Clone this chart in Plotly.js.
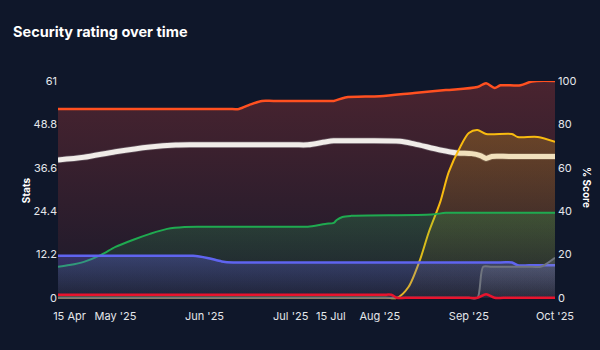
<!DOCTYPE html>
<html>
<head>
<meta charset="utf-8">
<script src="https://cdn.plot.ly/plotly-3.0.1.min.js"></script>
<style>
  html, body { margin: 0; padding: 0; background: #0f172a; }
  #chart { width: 600px; height: 350px; }
</style>
</head>
<body>
<div id="chart"></div>
<script>
// ---- Data (values in % Score) ----
const orangeDates = ['2025-04-11','2025-06-09','2025-06-13','2025-06-17','2025-06-21','2025-06-25','2025-07-13','2025-07-16','2025-07-20','2025-08-01','2025-08-13','2025-08-24','2025-09-04','2025-09-07','2025-09-10','2025-09-12','2025-09-19','2025-09-23','2025-10-01'];
const orangeVals  = [87.1, 87.1, 87.1, 89.2, 90.8, 90.8, 90.8, 90.8, 92.4, 93.0, 94.5, 95.8, 97.2, 99.0, 96.8, 98.0, 98.0, 99.8, 100];

const whiteDates = ['2025-04-11','2025-04-20','2025-05-01','2025-05-13','2025-05-22','2025-05-28','2025-06-03','2025-07-02','2025-07-07','2025-07-13','2025-07-16','2025-07-22','2025-08-08','2025-08-13','2025-08-22','2025-08-28','2025-09-02','2025-09-05','2025-09-07','2025-09-09','2025-09-15','2025-10-01'];
const whiteVals  = [63.6, 64.8, 67.4, 69.6, 70.5, 70.6, 70.6, 70.6, 70.6, 71.9, 72.4, 72.4, 72.2, 71.0, 68.2, 66.8, 66.5, 65.6, 64.3, 65.2, 65.2, 65.2];

const yellowDates = ['2025-04-11','2025-07-01','2025-08-03','2025-08-07','2025-08-11','2025-08-15','2025-08-18','2025-08-22','2025-08-25','2025-08-29','2025-09-01','2025-09-04','2025-09-07','2025-09-16','2025-09-18','2025-09-25','2025-10-01'];
const yellowVals  = [0, 0, 0, 0, 5, 17.5, 30, 44, 58, 69.6, 76, 77.4, 75.6, 75.6, 74.2, 74.2, 71.9];

const greenDates = ['2025-04-11','2025-04-15','2025-04-20','2025-04-26','2025-05-01','2025-05-07','2025-05-13','2025-05-19','2025-05-25','2025-05-31','2025-06-05','2025-07-03','2025-07-07','2025-07-13','2025-07-16','2025-07-17','2025-07-19','2025-07-22','2025-08-19','2025-08-24','2025-09-01','2025-10-01'];
const greenVals  = [14.3, 15.1, 16.6, 19.8, 23.5, 26.7, 29.5, 31.8, 32.7, 32.8, 32.8, 32.8, 32.8, 34.1, 34.6, 35.9, 37.3, 37.8, 38.4, 39.2, 39.2, 39.2];

const blueDates = ['2025-04-11','2025-05-01','2025-05-24','2025-05-28','2025-06-02','2025-06-07','2025-06-11','2025-06-16','2025-09-12','2025-09-16','2025-09-18','2025-09-22','2025-10-01'];
const blueVals  = [19.4, 19.4, 19.4, 19.4, 18.4, 16.8, 16.3, 16.3, 16.3, 16.3, 15.0, 15.0, 15.0];

const grayDates = ['2025-04-11','2025-08-01','2025-09-01','2025-09-04','2025-09-06','2025-09-09','2025-09-23','2025-09-26','2025-10-01'];
const grayVals  = [0, 0, 0, 0, 14.3, 14.3, 14.3, 14.3, 18.5];

const redDates = ['2025-04-11','2025-07-01','2025-08-02','2025-08-05','2025-08-07','2025-08-10','2025-09-01','2025-09-04','2025-09-07','2025-09-10','2025-09-13','2025-10-01'];
const redVals  = [1.4, 1.4, 1.4, 1.4, 0, 0, 0, 0, 1.6, 0, 0, 0];

// ---- Axis ticks ----
const xTickVals  = ['2025-04-15','2025-05-01','2025-06-01','2025-07-01','2025-07-15','2025-08-01','2025-09-01','2025-10-01'];
const xTickText  = ['15 Apr', "May '25", "Jun '25", "Jul '25", '15 Jul', "Aug '25", "Sep '25", "Oct '25"];
const statsTicks = [0, 12.2, 24.4, 36.6, 48.8, 61];
const statsText  = ['0', '12.2', '24.4', '36.6', '48.8', '61'];
const scoreTicks = [0, 20, 40, 60, 80, 100];

const FONT = 'Inter, "Open Sans", Arial, sans-serif';

function lineTrace(x, y, color, width) {
  return {
    x: x, y: y, yaxis: 'y2', type: 'scatter', mode: 'lines',
    line: { color: color, width: width, shape: 'spline', smoothing: 0.8 },
    hoverinfo: 'skip', showlegend: false
  };
}

function areaTrace(x, y, color, rgb, aTop, aBot, top, width) {
  const t = lineTrace(x, y, color, width);
  t.fill = 'tozeroy';
  t.fillgradient = {
    type: 'vertical', start: 0, stop: top,
    colorscale: [[0, 'rgba(' + rgb + ',' + aBot + ')'], [1, 'rgba(' + rgb + ',' + aTop + ')']]
  };
  return t;
}

const traces = [
  // empty trace that anchors the left "Stats" axis
  { x: [], y: [], yaxis: 'y', type: 'scatter', mode: 'lines', hoverinfo: 'skip', showlegend: false },
  areaTrace(orangeDates, orangeVals, '#ff5020', '210,65,60', 0.30, 0.06, 100, 2.5),
  lineTrace(whiteDates, whiteVals, 'rgba(170,170,175,0.35)', 6.5),
  lineTrace(whiteDates, whiteVals, '#f0ece8', 5),
  areaTrace(yellowDates, yellowVals, '#f8bb10', '245,180,20', 0.24, 0.02, 78, 2),
  areaTrace(greenDates, greenVals, '#1faa50', '34,197,94', 0.22, 0.03, 40, 2),
  areaTrace(blueDates, blueVals, '#5f64f0', '99,102,241', 0.32, 0.06, 20, 2.5),
  areaTrace(grayDates, grayVals, '#70757f', '150,155,170', 0.25, 0.05, 19, 2),
  lineTrace(redDates, redVals, '#e8142e', 2.5)
];

const tickFont = { family: FONT, size: 11, color: '#e5e7eb' };

const layout = {
  width: 600, height: 350,
  paper_bgcolor: '#0f172a', plot_bgcolor: '#0f172a',
  margin: { l: 58, r: 45, t: 81, b: 50 },
  showlegend: false,
  title: {
    text: 'Security rating over time',
    font: { family: FONT, size: 14.5, weight: 700, color: '#ffffff' },
    xref: 'container', x: 13 / 600, xanchor: 'left',
    yref: 'container', y: 1 - 31.5 / 350, yanchor: 'middle'
  },
  xaxis: {
    type: 'date', range: ['2025-04-11', '2025-10-01'],
    tickmode: 'array', tickvals: xTickVals, ticktext: xTickText,
    showgrid: false, zeroline: false, showline: false, ticks: '',
    tickfont: tickFont, ticklabelstandoff: 8, fixedrange: true
  },
  yaxis: {
    range: [-0.61, 61], tickmode: 'array', tickvals: statsTicks, ticktext: statsText,
    showgrid: false, zeroline: false, showline: false, ticks: '',
    tickfont: tickFont, ticklabelstandoff: 0,
    title: { text: 'Stats', font: { family: FONT, size: 10, weight: 700, color: '#ffffff' }, standoff: 0 },
    fixedrange: true
  },
  yaxis2: {
    overlaying: 'y', side: 'right', range: [-1, 100],
    tickmode: 'array', tickvals: scoreTicks,
    showgrid: false, zeroline: false, showline: false, ticks: '',
    tickfont: tickFont, ticklabelstandoff: 2, fixedrange: true
  },
  annotations: [{
    text: '% Score', textangle: 90, showarrow: false,
    xref: 'paper', yref: 'paper', x: (587 - 58) / 497, y: 0.516,
    xanchor: 'center', yanchor: 'middle',
    font: { family: FONT, size: 10, weight: 700, color: '#ffffff' }
  }]
};

Plotly.newPlot('chart', traces, layout, { displayModeBar: false, staticPlot: true });
</script>
</body>
</html>
